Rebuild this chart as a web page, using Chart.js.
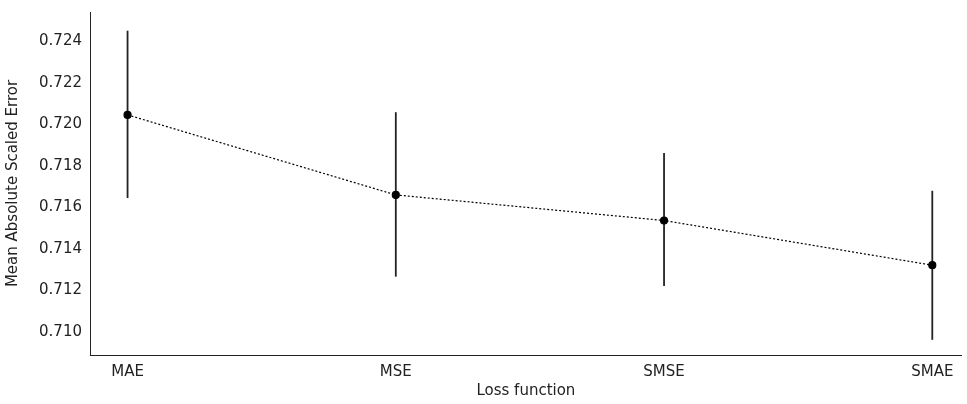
<!DOCTYPE html>
<html><head><meta charset="utf-8">
<script src="https://cdn.jsdelivr.net/npm/chart.js@4"></script>
<style>html,body{margin:0;background:#fff}#wrap{width:967px;height:404px}</style>
</head><body><div id="wrap"><canvas id="c"></canvas></div>
<script>
const categories = ['MAE', 'MSE', 'SMSE', 'SMAE'];
const means = [0.72045, 0.71660, 0.71537, 0.71322];
const errLow = [0.71645, 0.71267, 0.71222, 0.70963];
const errHigh = [0.72450, 0.72058, 0.71862, 0.71680];
const yTicks = [0.710, 0.712, 0.714, 0.716, 0.718, 0.720, 0.722, 0.724];

const errorBars = {
  id: 'errorBars',
  beforeDatasetsDraw(chart) {
    const { ctx, scales: { x, y } } = chart;
    ctx.save();
    ctx.strokeStyle = '#222';
    ctx.lineWidth = 1.8;
    categories.forEach((c, i) => {
      const px = x.getPixelForValue(i);
      ctx.beginPath();
      ctx.moveTo(px, y.getPixelForValue(errLow[i]));
      ctx.lineTo(px, y.getPixelForValue(errHigh[i]));
      ctx.stroke();
    });
    ctx.restore();
  }
};

new Chart(document.getElementById('c'), {
  type: 'line',
  data: {
    datasets: [{
      data: means.map((v, i) => ({ x: i, y: v })),
      borderColor: '#000',
      borderWidth: 1.2,
      borderDash: [2, 2],
      pointBackgroundColor: '#000',
      pointBorderColor: '#000',
      pointRadius: 3.5
    }]
  },
  plugins: [errorBars],
  options: {
    responsive: true,
    maintainAspectRatio: false,
    animation: false,
    layout: { padding: { top: 10, right: 2 } },
    plugins: { legend: { display: false }, tooltip: { enabled: false } },
    scales: {
      x: {
        type: 'linear', min: -0.14, max: 3.11,
        afterBuildTicks: s => { s.ticks = categories.map((c, i) => ({ value: i })); },
        afterFit: s => { s.height = 49; },
        ticks: { callback: v => categories[v], color: '#222', font: { size: 15, family: 'DejaVu Sans' }, maxRotation: 0 },
        grid: { display: false, drawTicks: true, tickLength: 5, tickColor: '#222' },
        border: { color: '#222', width: 1 },
        title: { display: true, text: 'Loss function', color: '#222', font: { size: 15, family: 'DejaVu Sans' }, padding: { top: 0 } }
      },
      y: {
        min: 0.7089, max: 0.7254,
        afterBuildTicks: s => { s.ticks = yTicks.map(v => ({ value: v })); },
        afterFit: s => { s.width = 90; },
        ticks: { callback: v => v.toFixed(3), color: '#222', font: { size: 15, family: 'DejaVu Sans' } },
        grid: { display: false, drawTicks: true, tickLength: 5, tickColor: '#222' },
        border: { color: '#222', width: 1 },
        title: { display: true, text: 'Mean Absolute Scaled Error', color: '#222', font: { size: 15, family: 'DejaVu Sans' }, padding: { bottom: 2 } }
      }
    }
  }
});
</script></body></html>
